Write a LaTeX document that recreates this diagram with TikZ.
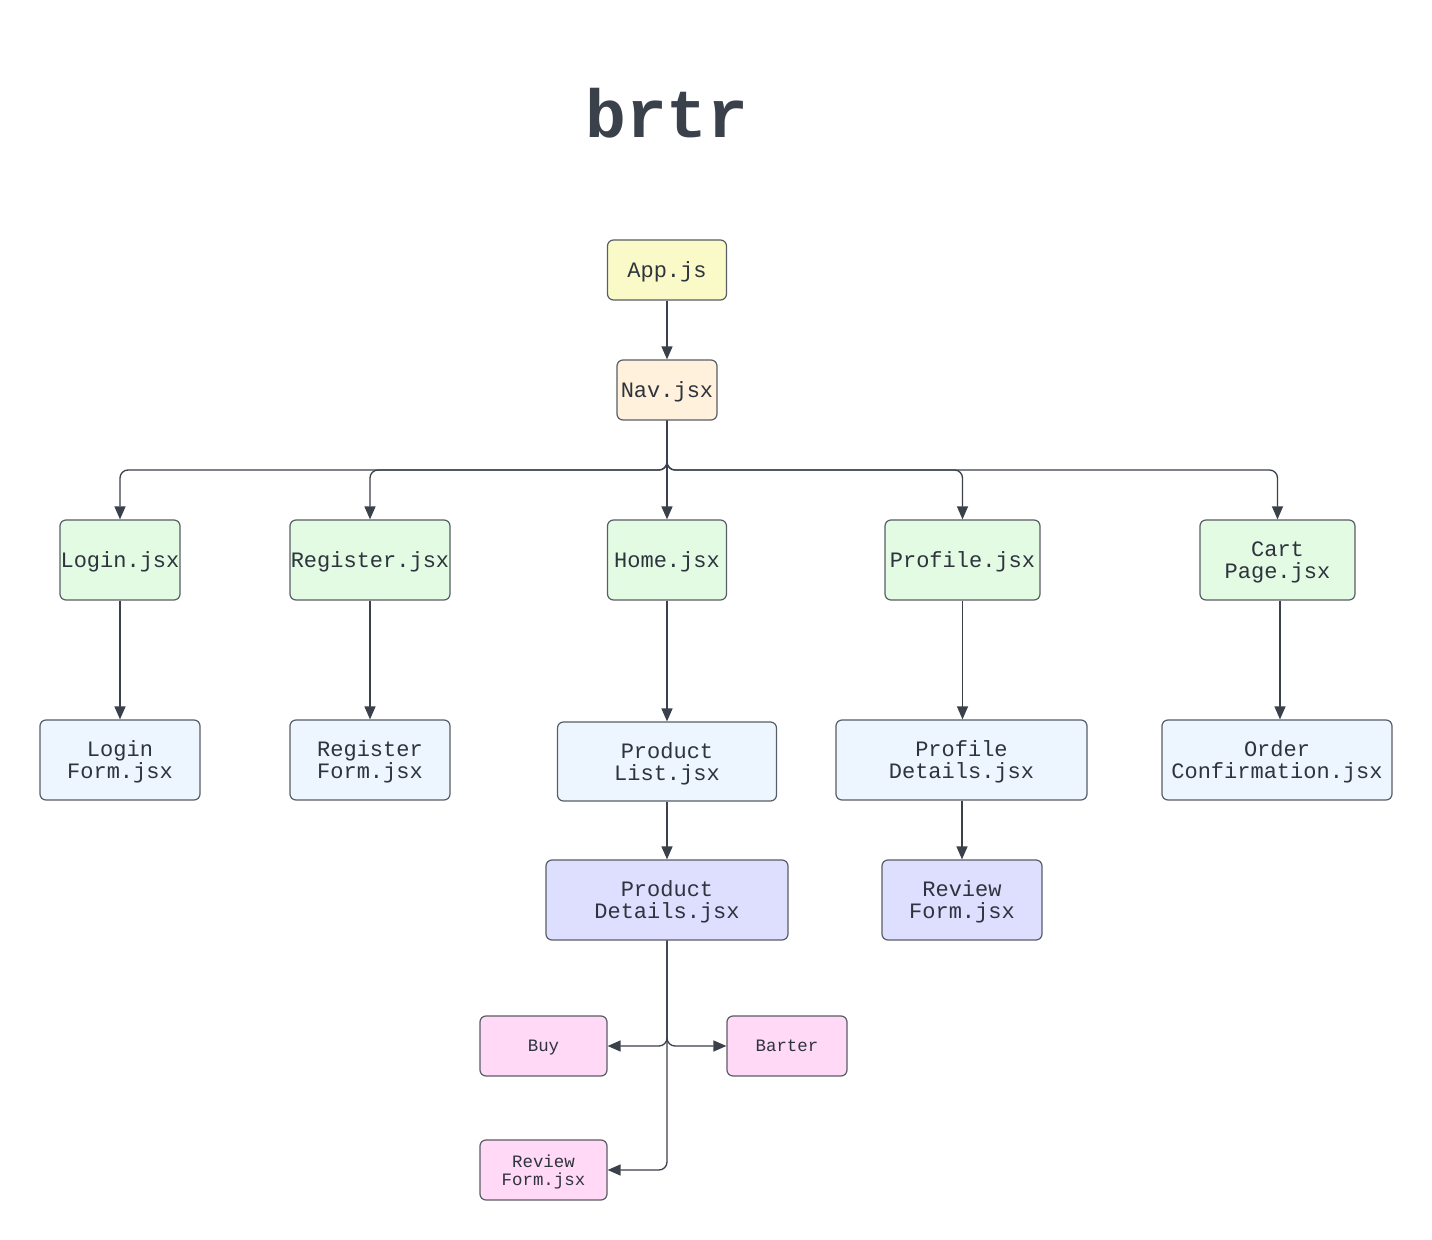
\documentclass[tikz,border=0pt]{standalone}
\usepackage{fontspec}
\setmonofont{Liberation Mono}
\usetikzlibrary{arrows.meta}
\definecolor{ink}{HTML}{3A414A}
\definecolor{txt}{HTML}{2E343D}
\definecolor{cyellow}{HTML}{FAFAC8}
\definecolor{corange}{HTML}{FFF1DB}
\definecolor{cgreen}{HTML}{E3FAE3}
\definecolor{cblue}{HTML}{EDF5FF}
\definecolor{cpurple}{HTML}{DEDEFF}
\definecolor{cpink}{HTML}{FFD9F5}
\tikzset{
  box/.style={draw=ink!85, line width=0.6pt, rounded corners=3pt, align=center,
    inner sep=0pt, text=txt, font=\ttfamily\fontsize{11}{11}\selectfont, minimum height=40pt,
    text depth=0pt},
  ml/.style={text depth=-0.8pt},
  smallbox/.style={box, font=\ttfamily\fontsize{8.7}{9}\selectfont, minimum height=30pt},
  conn/.style={draw=ink, line width=0.65pt, rounded corners=4pt,
    -{Triangle[length=6.5pt,width=5.5pt]}},
}
\begin{document}
\begin{tikzpicture}[x=0.5pt,y=-0.5pt]
\useasboundingbox (0,0) rectangle (1432,1240);
\node[text=ink, font=\ttfamily\bfseries\fontsize{34}{34}\selectfont] (title) at (667,113) {brtr};

\node[box, fill=cyellow, minimum width=59.5pt, minimum height=30pt] (app) at (667,270) {App.js};
\node[box, fill=corange, minimum width=50pt, minimum height=30pt] (nav) at (667,390) {Nav.jsx};

\node[box, fill=cgreen, minimum width=60pt] (login) at (120,560) {Login.jsx};
\node[box, fill=cgreen, minimum width=80pt] (register) at (370,560) {Register.jsx};
\node[box, fill=cgreen, minimum width=59.5pt] (home) at (667,560) {Home.jsx};
\node[box, fill=cgreen, minimum width=77.5pt] (profile) at (962.5,560) {Profile.jsx};
\node[box, ml, fill=cgreen, minimum width=77.5pt] (cart) at (1277.5,560) {Cart\\Page.jsx};

\node[box, ml, fill=cblue, minimum width=80pt] (loginform) at (120,760) {Login\\Form.jsx};
\node[box, ml, fill=cblue, minimum width=80pt] (registerform) at (370,760) {Register\\Form.jsx};
\node[box, ml, fill=cblue, minimum width=109.5pt, minimum height=39.5pt] (productlist) at (667,761.5) {Product\\List.jsx};
\node[box, ml, fill=cblue, minimum width=125.5pt] (profiledetails) at (961.5,760) {Profile\\Details.jsx};
\node[box, ml, fill=cblue, minimum width=115pt] (order) at (1277,760) {Order\\Confirmation.jsx};

\node[box, ml, fill=cpurple, minimum width=121pt] (productdetails) at (667,900) {Product\\Details.jsx};
\node[box, ml, fill=cpurple, minimum width=80pt] (reviewform) at (962,900) {Review\\Form.jsx};

\node[smallbox, fill=cpink, minimum width=63.5pt] (buy) at (543.5,1046) {Buy};
\node[smallbox, fill=cpink, minimum width=60pt] (barter) at (787,1046) {Barter};
\node[smallbox, ml, fill=cpink, minimum width=63.5pt] (reviewpink) at (543.5,1170) {Review\\Form.jsx};

\coordinate (navbus) at (667,470);
\draw[conn] (app) -- (nav);
\draw[conn] (nav.south) -- (navbus) -| (login.north);
\draw[conn] (nav.south) -- (navbus) -| (register.north);
\draw[conn] (nav.south) -- (home.north);
\draw[conn] (nav.south) -- (navbus) -| (profile.north);
\draw[conn] (nav.south) -- (navbus) -| (cart.north);

\draw[conn] (login) -- (loginform);
\draw[conn] (register) -- (registerform);
\draw[conn] (home) -- (productlist.north);
\draw[conn] (profile) -- (profiledetails.north -| profile.south);
\draw[conn] (cart.south -| 1280,0) -- (order.north -| 1280,0);
\draw[conn] (productlist) -- (productdetails.north);
\draw[conn] (profiledetails.south -| 962,0) -- (reviewform.north);

\draw[conn] (productdetails.south) |- (buy.east);
\draw[conn] (productdetails.south) |- (barter.west);
\draw[conn] (productdetails.south) |- (reviewpink.east);
\end{tikzpicture}
\end{document}
